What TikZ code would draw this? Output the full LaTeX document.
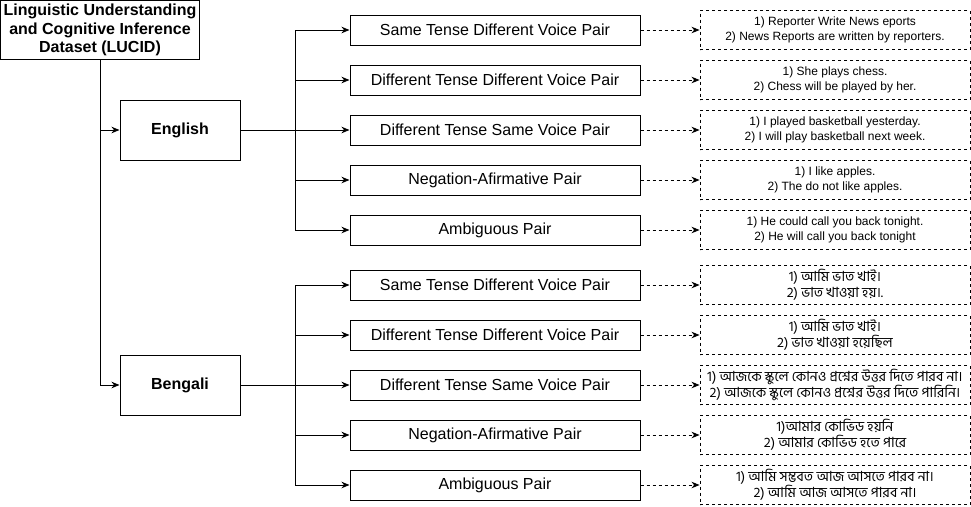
\documentclass[tikz,border=0pt]{standalone}
\usepackage{fontspec}
\setmainfont{Liberation Sans}
\newfontfamily\bnfont[Script=Bengali]{Hind Siliguri}
\usetikzlibrary{arrows.meta}

\tikzset{
  rootbox/.style={draw, line width=1pt, align=center, inner sep=0pt,
    minimum width=199pt, minimum height=59pt,
    font=\fontsize{16}{18.5}\selectfont\bfseries},
  langbox/.style={draw, line width=1pt, minimum width=120pt, minimum height=60pt,
    font=\fontsize{16}{19}\selectfont\bfseries},
  pairbox/.style={draw, line width=1pt, inner sep=0pt, minimum width=290pt,
    minimum height=30pt, font=\fontsize{16}{19}\selectfont},
  exbox/.style={draw, line width=0.9pt, dash pattern=on 3pt off 3pt, align=center,
    inner sep=0pt, minimum width=270pt, minimum height=39pt,
    font=\fontsize{12}{15}\selectfont},
  bnbox/.style={exbox, font=\fontsize{14}{16}\selectfont\bnfont},
  link/.style={line width=1pt, -{Stealth[length=8pt,width=6.5pt,inset=2.5pt]}},
  exlink/.style={link, dash pattern=on 3pt off 3pt},
}

\begin{document}
\begin{tikzpicture}[x=1pt, y=-1pt]
  \useasboundingbox (0,0) rectangle (971,506);

  % dataset and languages
  \node[rootbox] (root) at (100,30) {Linguistic Understanding\\and Cognitive Inference\\Dataset (LUCID)};
  \node[langbox] (eng) at (180,130) {English};
  \node[langbox] (ben) at (180,385) {Bengali};
  \coordinate (engfork) at (295,130);
  \coordinate (benfork) at (295,385);

  % english pairs
  \node[pairbox] (en1) at (495,30) {Same Tense Different Voice Pair};
  \node[pairbox] (en2) at (495,80) {Different Tense Different Voice Pair};
  \node[pairbox] (en3) at (495,130) {Different Tense Same Voice Pair};
  \node[pairbox] (en4) at (495,180) {Negation-Afirmative Pair};
  \node[pairbox] (en5) at (495,230) {Ambiguous Pair};

  \node[exbox] (enx1) at (835,30) {1) Reporter Write News eports\\2) News Reports are written by reporters.};
  \node[exbox] (enx2) at (835,80) {1) She plays chess.\\2) Chess will be played by her.};
  \node[exbox] (enx3) at (835,130) {1) I played basketball yesterday.\\2) I will play basketball next week.};
  \node[exbox] (enx4) at (835,180) {1) I like apples.\\2) The do not like apples.};
  \node[exbox] (enx5) at (835,230) {1) He could call you back tonight.\\2) He will call you back tonight};

  % bengali pairs
  \node[pairbox] (bn1) at (495,285) {Same Tense Different Voice Pair};
  \node[pairbox] (bn2) at (495,335) {Different Tense Different Voice Pair};
  \node[pairbox] (bn3) at (495,385) {Different Tense Same Voice Pair};
  \node[pairbox] (bn4) at (495,435) {Negation-Afirmative Pair};
  \node[pairbox] (bn5) at (495,485) {Ambiguous Pair};

  \node[bnbox] (bnx1) at (835,285) {1) আমি ভাত খাই।\\2) ভাত খাওয়া হয়।.};
  \node[bnbox] (bnx2) at (835,335) {1) আমি ভাত খাই।\\2) ভাত খাওয়া হয়েছিল};
  \node[bnbox] (bnx3) at (835,385) {1) আজকে স্কুলে কোনও প্রশ্নের উত্তর দিতে পারব না।\\2) আজকে স্কুলে কোনও প্রশ্নের উত্তর দিতে পারিনি।};
  \node[bnbox] (bnx4) at (835,435) {1)আমার কোভিড হয়নি\\2) আমার কোভিড হতে পারে};
  \node[bnbox] (bnx5) at (835,485) {1) আমি সম্ভবত আজ আসতে পারব না।\\2) আমি আজ আসতে পারব না।};

  % connectors
  \draw[link] (root) |- (eng);
  \draw[link] (root) |- (ben);
  \draw[line width=1pt] (eng) -- (engfork);
  \draw[line width=1pt] (ben) -- (benfork);
  \foreach \i in {1,...,5} {
    \draw[link] (engfork) |- (en\i);
    \draw[link] (benfork) |- (bn\i);
    \draw[exlink] (en\i) -- (enx\i);
    \draw[exlink] (bn\i) -- (bnx\i);
  }
\end{tikzpicture}
\end{document}
